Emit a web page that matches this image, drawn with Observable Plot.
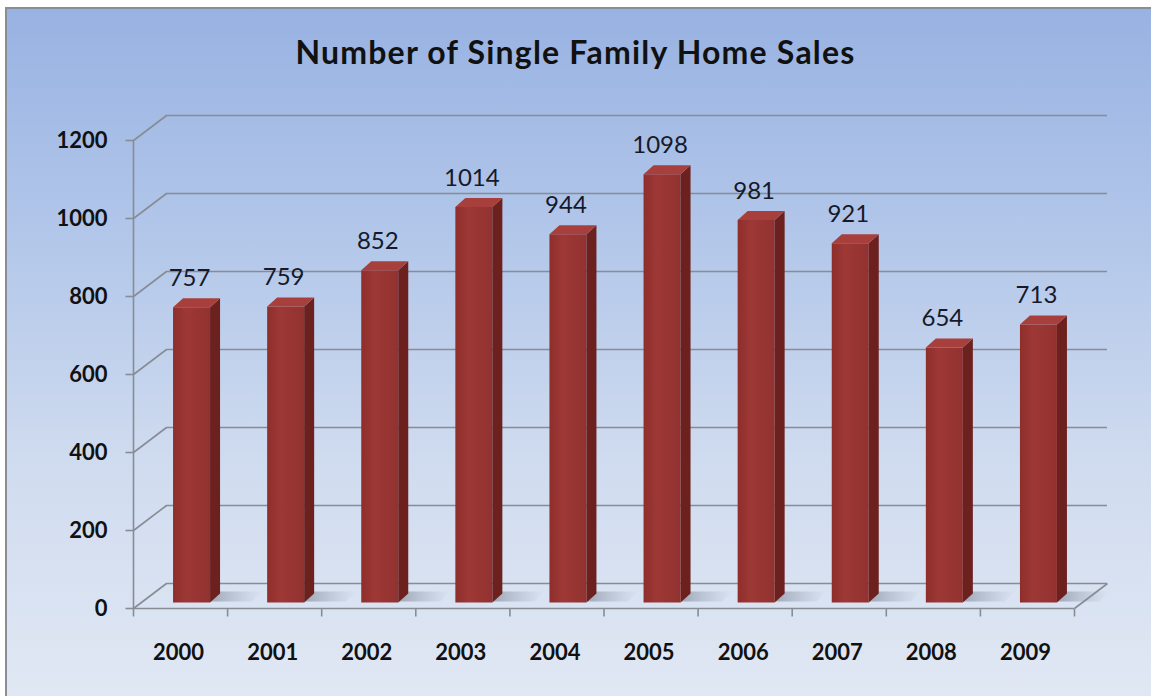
<!DOCTYPE html>
<html>
<head>
<meta charset="utf-8">
<script src="https://cdn.jsdelivr.net/npm/d3@7"></script>
<script src="https://cdn.jsdelivr.net/npm/@observablehq/plot@0.6"></script>
<style>
  html, body { margin: 0; padding: 0; background: #fff; }
  #wrap { position: relative; width: 1151px; height: 696px; overflow: hidden; background: #fff; font-family: Lato, "Open Sans", sans-serif; }
  #bg { position: absolute; left: 5px; top: 7px; right: -5px; bottom: -5px;
        border-top: 2px solid #8a8d92; border-left: 2px solid #8a8d92;
        background: linear-gradient(180deg, #98b2e2 0%, #b4c8ea 35%, #cfdbef 65%, #e1e8f4 100%); }
  #title { position: absolute; left: 0; top: 9px; width: 1151px; height: 86px; line-height: 86px;
           text-align: center; font-weight: bold; font-size: 32px; letter-spacing: 1.2px; color: #111; }
  #chart { position: absolute; left: 0; top: 101px; }
</style>
</head>
<body>
<div id="wrap">
  <div id="bg"></div>
  <div id="title">Number of Single Family Home Sales</div>
  <div id="chart"></div>
</div>
<script>
// ---- data ----
const years = ["2000", "2001", "2002", "2003", "2004", "2005", "2006", "2007", "2008", "2009"];
const sales = [757, 759, 852, 1014, 944, 1098, 981, 921, 654, 713];
const yTicks = [0, 200, 400, 600, 800, 1000, 1200];

// ---- layout ----
const W = 1151, H = 595;
const mL = 133, mR = 77, mT = 39, mB = 88;
const yMax = 1200;
const kx = (W - mL - mR) / years.length;   // px per x unit
const ky = (H - mT - mB) / yMax;           // px per y unit
const px2x = p => p / kx, px2y = p => p / ky;

const backDX = 33, backDY = 25;    // wall depth (px)
const barOffX = 11, barOffY = 6;   // bar front-face offset from front plane (px)
const barDX = 10, barDY = 9;       // bar depth (px)
const barHalf = 18.5;              // half front width (px)
const gridColor = "#878c95";

// ---- build bar polygons in data space ----
const faces = [];
const shadows = [];
years.forEach((yr, i) => {
  const v = sales[i];
  const c = i + 0.5;
  const xl = c + px2x(barOffX - barHalf), xr = c + px2x(barOffX + barHalf);
  const y0 = px2y(barOffY), y1 = v + px2y(barOffY);
  const ddx = px2x(barDX), ddy = px2y(barDY);
  const push = (face, pts) => pts.forEach(([x, y]) => faces.push({id: yr + face, face, x, y}));
  push("front", [[xl, y0], [xr, y0], [xr, y1], [xl, y1]]);
  push("side", [[xr, y0], [xr + ddx, y0 + ddy], [xr + ddx, y1 + ddy], [xr, y1]]);
  push("top", [[xl, y1], [xr, y1], [xr + ddx, y1 + ddy], [xl + ddx, y1 + ddy]]);
  const sw = px2x(42);
  [[xr, y0 + px2y(1)], [xr + sw, y0 + px2y(1)], [xr + sw + ddx, y0 + ddy + px2y(2)], [xr + ddx, y0 + ddy + px2y(2)]]
    .forEach(([x, y]) => shadows.push({id: yr, x, y}));
});

const plot = Plot.plot({
  width: W, height: H,
  marginLeft: mL, marginRight: mR, marginTop: mT, marginBottom: mB,
  x: {type: "linear", domain: [0, years.length], axis: null},
  y: {type: "linear", domain: [0, yMax], axis: null},
  style: {background: "transparent", fontFamily: "Lato, 'Open Sans', sans-serif", overflow: "visible"},
  marks: [
    // back wall gridlines
    Plot.ruleY(yTicks, {y: d => d, x1: 0, x2: years.length, dx: backDX, dy: -backDY, stroke: gridColor, strokeWidth: 1.6}),
    // side wall diagonals
    Plot.link(yTicks, {x1: 0, y1: d => d, x2: px2x(backDX), y2: d => d + px2y(backDY), stroke: gridColor, strokeWidth: 1.6}),
    // floor front edge and right edge
    Plot.ruleY([0], {x1: 0, x2: years.length, stroke: gridColor, strokeWidth: 1.6}),
    Plot.link([years.length], {x1: d => d, y1: 0, x2: d => d + px2x(backDX), y2: px2y(backDY), stroke: gridColor, strokeWidth: 1.6}),
    // front vertical axis and ticks
    Plot.ruleX([0], {y1: 0, y2: yMax, stroke: gridColor, strokeWidth: 1.6}),
    Plot.link(yTicks, {x1: px2x(-8), x2: 0, y1: d => d, y2: d => d, stroke: gridColor, strokeWidth: 1.6}),
    Plot.link(d3.range(years.length + 1), {x1: d => d, x2: d => d, y1: 0, y2: px2y(-8), stroke: gridColor, strokeWidth: 1.6}),
    // floor shadows
    Plot.line(shadows, {x: "x", y: "y", z: "id", fill: "url(#shadowGrad)", stroke: "none", curve: "linear-closed"}),
    // bars
    Plot.line(faces.filter(d => d.face === "front"), {x: "x", y: "y", z: "id", fill: "url(#frontGrad)", stroke: "none", curve: "linear-closed"}),
    Plot.line(faces.filter(d => d.face === "side"), {x: "x", y: "y", z: "id", fill: "#6c211f", stroke: "none", curve: "linear-closed"}),
    Plot.line(faces.filter(d => d.face === "top"), {x: "x", y: "y", z: "id", fill: "#a7403c", stroke: "none", curve: "linear-closed"}),
    // value labels
    Plot.text(sales, {x: (d, i) => i + 0.5, y: d => d, text: d => String(d), dx: barOffX - 2, dy: -barOffY - 29,
      fontSize: 24, fill: "#16192a", textAnchor: "middle", lineAnchor: "middle"}),
    // y tick labels
    Plot.text(yTicks, {x: 0, y: d => d, text: d => String(d), dx: -26, textAnchor: "end", lineAnchor: "middle",
      fontSize: 22, fontWeight: "bold", fill: "#111"}),
    // x labels
    Plot.text(years, {x: (d, i) => i + 0.5, y: 0, text: d => d, dx: -2, dy: 44, textAnchor: "middle", lineAnchor: "middle",
      fontSize: 22, fontWeight: "bold", fill: "#111"})
  ]
});

const defs = d3.select(plot).insert("defs", ":first-child");
const fg = defs.append("linearGradient").attr("id", "frontGrad").attr("x1", "0").attr("x2", "1").attr("y1", "0").attr("y2", "0");
fg.append("stop").attr("offset", "0%").attr("stop-color", "#8e2e2b");
fg.append("stop").attr("offset", "35%").attr("stop-color", "#9d3835");
fg.append("stop").attr("offset", "100%").attr("stop-color", "#923230");
const sg = defs.append("linearGradient").attr("id", "shadowGrad").attr("x1", "0").attr("x2", "1").attr("y1", "0").attr("y2", "0");
sg.append("stop").attr("offset", "0%").attr("stop-color", "#6f7888").attr("stop-opacity", 0.55);
sg.append("stop").attr("offset", "100%").attr("stop-color", "#8a93a3").attr("stop-opacity", 0);

document.getElementById("chart").appendChild(plot);
</script>
</body>
</html>
